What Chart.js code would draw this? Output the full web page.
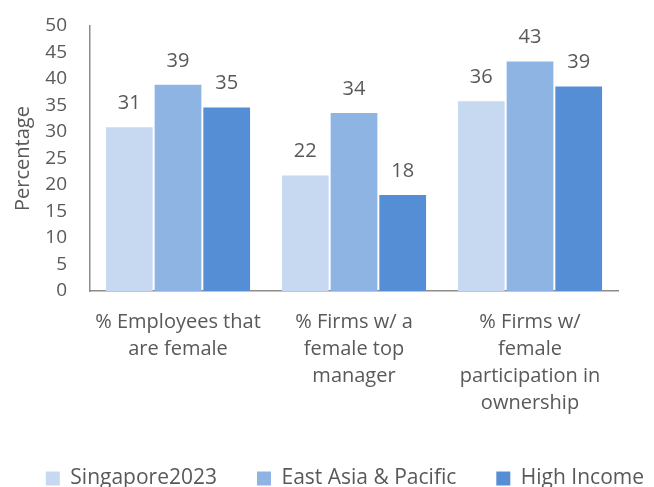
<!DOCTYPE html>
<html>
<head>
<meta charset="utf-8">
<script src="https://cdn.jsdelivr.net/npm/chart.js@4"></script>
<style>
  html, body { margin: 0; padding: 0; background: #fff; }
  #wrap { width: 654px; height: 487px; }
</style>
</head>
<body>
<div id="wrap"><canvas id="myChart"></canvas></div>
<script>
const categories = [
    ["% Employees that", "are female"],
    ["% Firms w/ a", "female top", "manager"],
    ["% Firms w/", "female", "participation in", "ownership"],
];
const seriesNames = ["Singapore2023", "East Asia & Pacific", "High Income"];
const singapore = [30.9, 21.8, 35.8];
const eastAsia = [38.9, 33.6, 43.3];
const highIncome = [34.6, 18.1, 38.6];
const colors = ["rgb(198, 217, 240)", "rgb(142, 180, 227)", "rgb(85, 142, 213)"];

const textColor = "#595959";
const fontFamily = "'Open Sans', 'Liberation Sans', sans-serif";

// value labels above each bar
const barLabels = {
    id: "barLabels",
    afterDatasetsDraw(chart) {
        const c = chart.ctx;
        c.save();
        c.fillStyle = textColor;
        c.font = "20px " + fontFamily;
        c.textAlign = "center";
        c.textBaseline = "middle";
        chart.data.datasets.forEach((ds, i) => {
            chart.getDatasetMeta(i).data.forEach((bar, j) => {
                c.fillText(Math.round(ds.data[j]), bar.x, bar.y - 24);
            });
        });
        c.restore();
    },
};

const ctx = document.getElementById("myChart");

new Chart(ctx, {
    type: "bar",
    data: {
        labels: categories,
        datasets: [{
            label: seriesNames[0],
            data: singapore,
            backgroundColor: colors[0],
        }, {
            label: seriesNames[1],
            data: eastAsia,
            backgroundColor: colors[1],
        }, {
            label: seriesNames[2],
            data: highIncome,
            backgroundColor: colors[2],
        }, ],
    },
    options: {
        responsive: true,
        maintainAspectRatio: false,
        animation: false,
        categoryPercentage: 0.83,
        barPercentage: 0.96,
        layout: {
            padding: { left: 3, right: -30, top: 0, bottom: -12 },
        },
        plugins: {
            legend: {
                position: "bottom",
                align: "end",
                labels: {
                    color: textColor,
                    font: { size: 21, family: fontFamily },
                    boxWidth: 14,
                    boxHeight: 14,
                    padding: 40,
                },
            },
            tooltip: { enabled: false },
        },
        scales: {
            x: {
                grid: { display: false, drawTicks: false },
                border: { color: "#8c8c8c", width: 1.5 },
                ticks: {
                    color: textColor,
                    font: { size: 20, family: fontFamily, lineHeight: 1.35 },
                    padding: 18,
                    maxRotation: 0,
                    autoSkip: false,
                },
                afterFit(scale) { scale.height = 137; },
            },
            y: {
                min: 0,
                max: 50,
                grid: { display: false, drawTicks: false },
                border: { color: "#8c8c8c", width: 1.5 },
                ticks: {
                    stepSize: 5,
                    autoSkip: false,
                    color: textColor,
                    font: { size: 19, family: fontFamily },
                    padding: 23,
                },
                title: {
                    display: true,
                    text: "Percentage",
                    color: textColor,
                    font: { size: 20, family: fontFamily },
                    padding: { top: 8, bottom: 0 },
                },
                afterFit(scale) {
                    scale.width = 87;
                    scale.paddingTop = 26;
                },
            },
            // empty right margin so the legend can use the full width
            yRight: {
                position: "right",
                grid: { display: false, drawTicks: false },
                border: { display: false },
                ticks: { display: false },
                afterFit(scale) { scale.width = 66; },
            },
        },
    },
    plugins: [barLabels],
});
</script>
</body>
</html>
